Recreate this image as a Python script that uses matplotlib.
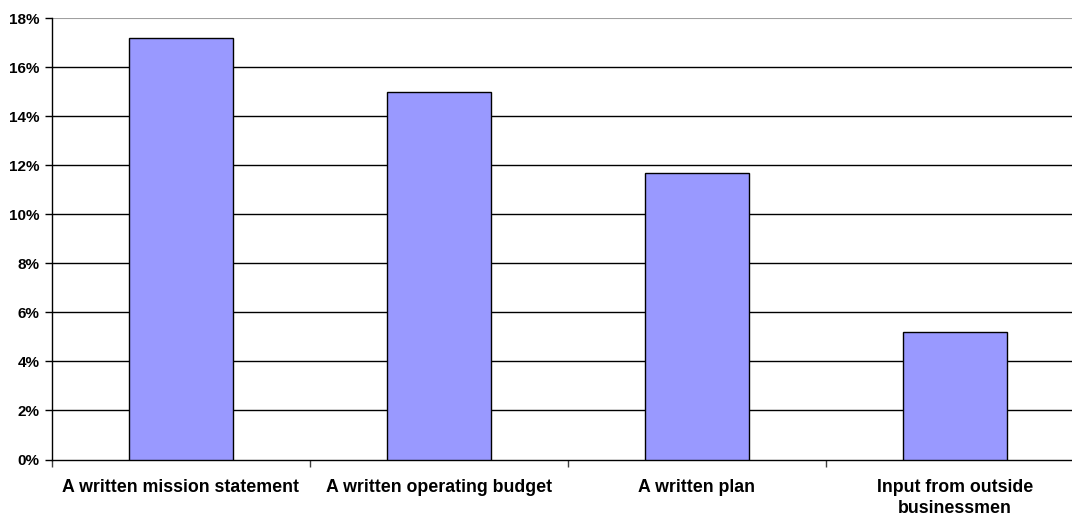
import numpy as np
import matplotlib.pyplot as plt
from matplotlib.ticker import FuncFormatter, MultipleLocator

categories = ["A written mission statement", "A written operating budget",
              "A written plan", "Input from outside\nbusinessmen"]
values = [17.2, 15.0, 11.7, 5.2]

plt.rcParams['font.family'] = ['Liberation Sans', 'DejaVu Sans']

fig = plt.figure(figsize=(10.72, 5.23), dpi=100)
# plot area runs a little past the right edge of the figure
ax = fig.add_axes([52 / 1072, 1 - 459.5 / 523, 1032 / 1072, 441.5 / 523])

x = np.arange(len(categories))
ax.bar(x, values, width=0.4, color="#9999FF", edgecolor="black", linewidth=1.0, zorder=3)

ax.set_xlim(-0.5, len(categories) - 0.5)
ax.set_ylim(0, 18)
ax.yaxis.set_major_locator(MultipleLocator(2))
ax.yaxis.set_major_formatter(FuncFormatter(lambda v, p: f"{v:.0f}%"))

for v in range(2, 18, 2):
    ax.axhline(v, color="black", linewidth=1.0, zorder=1)
ax.axhline(18, color="#a0a0a0", linewidth=1.5, zorder=1)

ax.set_xticks(x)
ax.set_xticklabels(categories, fontsize=12.8, fontweight="bold", linespacing=1.35)
ax.set_xticks(np.arange(len(categories) + 1) - 0.5, minor=True)
ax.tick_params(axis="x", which="major", length=0, pad=14)
ax.tick_params(axis="x", which="minor", length=5, width=1, color="#404040")
ax.tick_params(axis="y", length=5, width=1, labelsize=11, pad=4)
for lbl in ax.get_yticklabels():
    lbl.set_fontweight("bold")

for s in ["top", "right"]:
    ax.spines[s].set_visible(False)
ax.spines["left"].set_color("black")
ax.spines["bottom"].set_color("black")
ax.spines["left"].set_linewidth(1.0)
ax.spines["bottom"].set_linewidth(1.0)

fig.savefig("out.png", dpi=100)
